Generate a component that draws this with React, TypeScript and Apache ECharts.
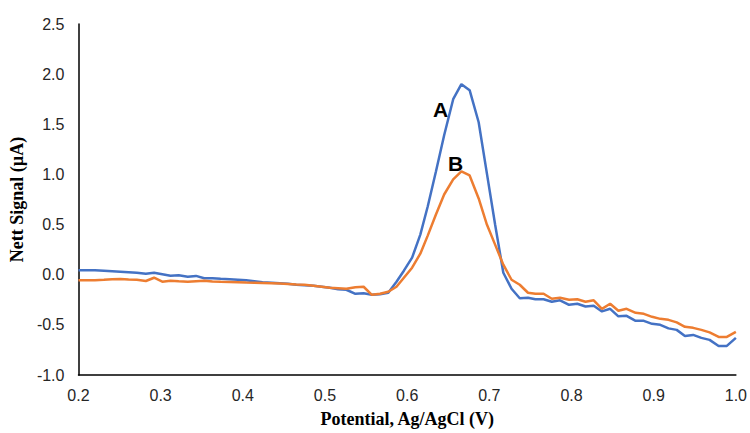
import React, { useEffect, useRef } from "react";
import * as echarts from "echarts";

const potential: number[] = [
  0.200, 0.210, 0.220, 0.231, 0.241, 0.251, 0.261, 0.271, 0.282, 0.292,
  0.302, 0.312, 0.322, 0.333, 0.343, 0.353, 0.363, 0.373, 0.384, 0.394,
  0.404, 0.414, 0.424, 0.435, 0.445, 0.455, 0.465, 0.475, 0.486, 0.496,
  0.506, 0.516, 0.526, 0.537, 0.547, 0.557, 0.567, 0.577, 0.587, 0.596,
  0.606, 0.616, 0.625, 0.635, 0.645, 0.656, 0.666, 0.676, 0.687, 0.697,
  0.707, 0.717, 0.727, 0.737, 0.747, 0.756, 0.766, 0.776, 0.786, 0.797,
  0.807, 0.817, 0.827, 0.837, 0.847, 0.857, 0.867, 0.878, 0.888, 0.898,
  0.908, 0.918, 0.928, 0.938, 0.948, 0.958, 0.968, 0.979, 0.989, 1.000,
];

const signalA: number[] = [
  0.045, 0.045, 0.045, 0.04, 0.035, 0.03, 0.025, 0.02, 0.01, 0.02,
  0.005, -0.01, -0.005, -0.02, -0.012, -0.035, -0.035, -0.04, -0.045, -0.05,
  -0.055, -0.065, -0.075, -0.08, -0.085, -0.09, -0.1, -0.105, -0.11, -0.12,
  -0.13, -0.145, -0.15, -0.19, -0.185, -0.2, -0.195, -0.18, -0.07, 0.04,
  0.17, 0.4, 0.68, 1.03, 1.39, 1.75, 1.9, 1.84, 1.52, 1.01,
  0.5, 0.02, -0.14, -0.235, -0.23, -0.245, -0.245, -0.27, -0.255, -0.3,
  -0.29, -0.317, -0.31, -0.366, -0.34, -0.415, -0.41, -0.46, -0.46, -0.49,
  -0.5, -0.535, -0.55, -0.61, -0.6, -0.63, -0.65, -0.71, -0.71, -0.63,
];

const signalB: number[] = [
  -0.056, -0.056, -0.055, -0.05, -0.045, -0.043, -0.048, -0.05, -0.063, -0.03,
  -0.07, -0.06, -0.065, -0.07, -0.065, -0.06, -0.068, -0.07, -0.072, -0.075,
  -0.078, -0.08, -0.082, -0.085, -0.088, -0.092, -0.097, -0.1, -0.11, -0.12,
  -0.13, -0.135, -0.14, -0.125, -0.12, -0.2, -0.19, -0.17, -0.12, -0.03,
  0.07, 0.21, 0.39, 0.6, 0.8, 0.95, 1.03, 0.99, 0.76, 0.5,
  0.3, 0.1, -0.05, -0.1, -0.18, -0.19, -0.19, -0.24, -0.23, -0.25,
  -0.245, -0.27, -0.255, -0.34, -0.29, -0.36, -0.34, -0.38, -0.39, -0.42,
  -0.44, -0.45, -0.475, -0.52, -0.53, -0.55, -0.575, -0.62, -0.62, -0.57,
];

const labelA = { text: "A", coord: [0.6407, 1.65] };
const labelB = { text: "B", coord: [0.659, 1.11] };

const xTitle = "Potential, Ag/AgCl (V)";
const yTitle = "Nett Signal (\u00b5A)";

export default function App() {
  const ref = useRef<HTMLDivElement>(null);

  useEffect(() => {
    document.body.style.margin = "0";
    if (!ref.current) return;
    const chart = echarts.init(ref.current, null, { renderer: "svg" });

    const mk = (l: { text: string; coord: number[] }) => ({
      symbol: "circle",
      symbolSize: 0,
      silent: true,
      data: [
        {
          coord: l.coord,
          label: {
            show: true,
            formatter: l.text,
            position: "inside",
            fontFamily: "Liberation Sans, Arial, sans-serif",
            fontWeight: "bold",
            fontSize: 21,
            color: "#000",
          },
        },
      ],
    });

    chart.setOption({
      animation: false,
      backgroundColor: "#fff",
      grid: { left: 77, right: 14, top: 24, bottom: 55, containLabel: false },
      xAxis: {
        type: "value",
        min: 0.2,
        max: 1.0,
        interval: 0.1,
        name: xTitle,
        nameLocation: "middle",
        nameGap: 35,
        nameTextStyle: {
          fontFamily: "Liberation Serif, Times New Roman, serif",
          fontWeight: "bold",
          fontSize: 18,
          color: "#000",
        },
        axisLine: { show: true, onZero: false, lineStyle: { color: "#000", width: 1.5 } },
        axisTick: { show: false },
        splitLine: { show: false },
        axisLabel: {
          margin: 12,
          fontFamily: "Liberation Sans, Arial, sans-serif",
          fontSize: 16,
          color: "#262626",
          formatter: (v: number) => v.toFixed(1),
        },
      },
      yAxis: {
        type: "value",
        min: -1.0,
        max: 2.5,
        interval: 0.5,
        name: yTitle,
        nameLocation: "middle",
        nameGap: 50,
        nameTextStyle: {
          fontFamily: "Liberation Serif, Times New Roman, serif",
          fontWeight: "bold",
          fontSize: 18,
          color: "#000",
        },
        axisLine: { show: true, onZero: false, lineStyle: { color: "#000", width: 1.5 } },
        axisTick: { show: false },
        splitLine: { show: false },
        axisLabel: {
          margin: 14,
          fontFamily: "Liberation Sans, Arial, sans-serif",
          fontSize: 16,
          color: "#262626",
          formatter: (v: number) => v.toFixed(1),
        },
      },
      series: [
        {
          name: "A",
          type: "line",
          data: potential.map((x, i) => [x, signalA[i]]),
          showSymbol: false,
          lineStyle: { color: "#4472C4", width: 2.5 },
          itemStyle: { color: "#4472C4" },
          z: 2,
          markPoint: mk(labelA),
        },
        {
          name: "B",
          type: "line",
          data: potential.map((x, i) => [x, signalB[i]]),
          showSymbol: false,
          lineStyle: { color: "#ED7D31", width: 2.5 },
          itemStyle: { color: "#ED7D31" },
          z: 3,
          markPoint: mk(labelB),
        },
      ],
    });

    return () => chart.dispose();
  }, []);

  return <div ref={ref} style={{ width: 750, height: 433 }} />;
}
